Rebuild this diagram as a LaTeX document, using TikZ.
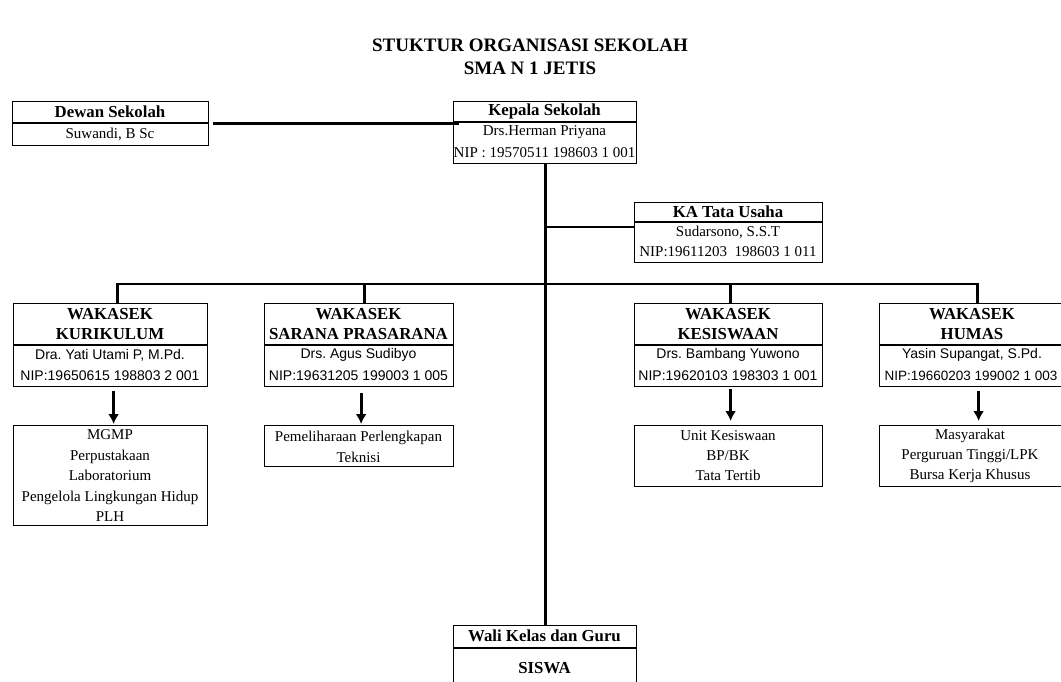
\documentclass[tikz,border=0pt]{standalone}
\usepackage{fontspec}
\setmainfont{Liberation Serif}
\newfontfamily\sansf{Liberation Sans}
\usetikzlibrary{arrows.meta,calc}
\frenchspacing
\tikzset{
  orgbox/.style={draw=black, line width=1.2pt, anchor=north west, inner sep=0pt, fill=white},
  divline/.style={draw=black, line width=1.2pt},
  conn/.style={draw=black, line width=2.8pt},
  arr/.style={draw=black, line width=2.8pt, -{Latex[length=10pt,width=11pt]}},
  ttl/.style={font=\bfseries\fontsize{19}{21}\selectfont, inner sep=0pt},
  hd/.style={font=\bfseries\fontsize{16.8}{18}\selectfont, inner sep=0pt},
  nm/.style={font=\fontsize{15}{17}\selectfont, inner sep=0pt},
  sn/.style={font=\sansf\fontsize{14}{16}\selectfont, inner sep=0pt},
  sub/.style={align=center, inner sep=0pt},
}
\begin{document}
\begin{tikzpicture}[x=1pt,y=-1pt]
\useasboundingbox (0,0) rectangle (1061,682);
% title
\node[ttl] (t1) at (530,45) {STUKTUR ORGANISASI SEKOLAH};
\node[ttl] (t2) at (530,68) {SMA N 1 JETIS};

% Dewan Sekolah
\node[orgbox, minimum width=196pt, minimum height=44pt] (dewan) at (12,101) {};
\draw[divline] (12,123) -- (208,123);
\node[hd] (dewanh) at (110,112) {Dewan Sekolah};
\node[nm] (dewann) at (110,134) {Suwandi, B Sc};

% Kepala Sekolah
\node[orgbox, minimum width=183pt, minimum height=62pt] (kepala) at (453,101) {};
\draw[divline] (453,122) -- (636,122);
\node[hd] (kepalah) at (544.5,111) {Kepala Sekolah};
\node[nm] (kepalan) at (544.5,132) {Drs.Herman Priyana};
\node[nm] (kepalanip) at (544.5,153) {NIP : 19570511 198603 1 001};

% KA Tata Usaha
\node[orgbox, minimum width=188pt, minimum height=60pt] (tata) at (634,202) {};
\draw[divline] (634,222) -- (822,222);
\node[hd] (tatah) at (728,212) {KA Tata Usaha};
\node[nm] (tatan) at (728,232) {Sudarsono, S.S.T};
\node[nm] (tatanip) at (728,252) {NIP:19611203\ \ 198603 1 011};

% WAKASEK boxes
\node[orgbox, minimum width=194pt, minimum height=83pt] (kur) at (13,303) {};
\draw[divline] (13,345) -- (207,345);
\node[hd] (kurh1) at (110,314) {WAKASEK};
\node[hd] (kurh2) at (110,334) {KURIKULUM};
\node[sn] (kurn) at (110,355) {Dra. Yati Utami P, M.Pd.};
\node[sn] (kurnip) at (110,376) {NIP:19650615 198803 2 001};

\node[orgbox, minimum width=189pt, minimum height=83pt] (sar) at (264,303) {};
\draw[divline] (264,345) -- (453,345);
\node[hd] (sarh1) at (358.5,314) {WAKASEK};
\node[hd] (sarh2) at (358.5,334) {SARANA PRASARANA};
\node[sn] (sarn) at (358.5,355) {Drs. Agus Sudibyo};
\node[sn] (sarnip) at (358.5,376) {NIP:19631205 199003 1 005};

\node[orgbox, minimum width=188pt, minimum height=83pt] (kes) at (634,303) {};
\draw[divline] (634,345) -- (822,345);
\node[hd] (kesh1) at (728,314) {WAKASEK};
\node[hd] (kesh2) at (728,334) {KESISWAAN};
\node[sn] (kesn) at (728,355) {Drs. Bambang Yuwono};
\node[sn] (kesnip) at (728,376) {NIP:19620103 198303 1 001};

\node[orgbox, minimum width=192pt, minimum height=83pt] (hum) at (879,303) {};
\draw[divline] (879,345) -- (1071,345);
\node[hd] (humh1) at (972,314) {WAKASEK};
\node[hd] (humh2) at (972,334) {HUMAS};
\node[sn] (humn) at (972,355) {Yasin Supangat, S.Pd.};
\node[sn, font=\sansf\fontsize{13.5}{16}\selectfont] (humnip) at (971,376) {NIP:19660203 199002 1 003};

% sub boxes
\node[orgbox, minimum width=194pt, minimum height=100pt] (kursub) at (13,425) {};
\node[sub, font=\fontsize{15}{20.5}\selectfont] (kursubt) at (110,476) {MGMP\\Perpustakaan\\Laboratorium\\Pengelola Lingkungan Hidup\\PLH};

\node[orgbox, minimum width=189pt, minimum height=41pt] (sarsub) at (264,425) {};
\node[sub, font=\fontsize{15}{20.5}\selectfont] (sarsubt) at (358.5,447) {Pemeliharaan Perlengkapan\\Teknisi};

\node[orgbox, minimum width=188pt, minimum height=61pt] (kessub) at (634,425) {};
\node[sub, font=\fontsize{15}{20}\selectfont] (kessubt) at (728,456) {Unit Kesiswaan\\BP/BK\\Tata Tertib};

\node[orgbox, minimum width=192pt, minimum height=61pt] (humsub) at (879,425) {};
\node[sub, font=\fontsize{15}{20}\selectfont] (humsubt) at (970,456) {Masyarakat\\Perguruan Tinggi/LPK\\Bursa Kerja Khusus};

% Wali Kelas
\node[orgbox, minimum width=183pt, minimum height=70pt] (wali) at (453,625) {};
\draw[divline] (453,648) -- (636,648);
\node[hd] (walih) at (544.5,636) {Wali Kelas dan Guru};
\node[hd] (walis) at (544.5,668) {SISWA};

% connectors
\draw[conn] ([xshift=4pt]dewan.east) -- ([xshift=6pt]kepala.west |- dewan.east);
\draw[conn] (kepala.south) -- (wali.north);
\coordinate (tj) at (kepala.south |- 0,227);
\draw[conn] (tj) -- (tj -| tata.west);
\coordinate (bl) at ([xshift=7pt]kur.north |- 0,284);
\coordinate (br) at ([xshift=2pt]hum.north |- 0,284);
\draw[conn] ([xshift=7pt]kur.north) -- (bl) -- (br) -- ([xshift=2pt]hum.north);
\draw[conn] ([xshift=5pt]sar.north) -- ([xshift=5pt]sar.north |- bl);
\draw[conn] ([xshift=2pt]kes.north) -- ([xshift=2pt]kes.north |- bl);
% arrows
\draw[arr] ([xshift=3pt,yshift=-4pt]kur.south) -- ([xshift=3pt,yshift=1pt]kursub.north);
\draw[arr] ([xshift=2pt,yshift=-6pt]sar.south) -- ([xshift=2pt,yshift=1pt]sarsub.north);
\draw[arr] ([xshift=2pt,yshift=-2pt]kes.south) -- ([xshift=2pt,yshift=4pt]kessub.north);
\draw[arr] ([xshift=3pt,yshift=-4pt]hum.south) -- ([xshift=3pt,yshift=4pt]humsub.north);
\end{tikzpicture}
\end{document}
